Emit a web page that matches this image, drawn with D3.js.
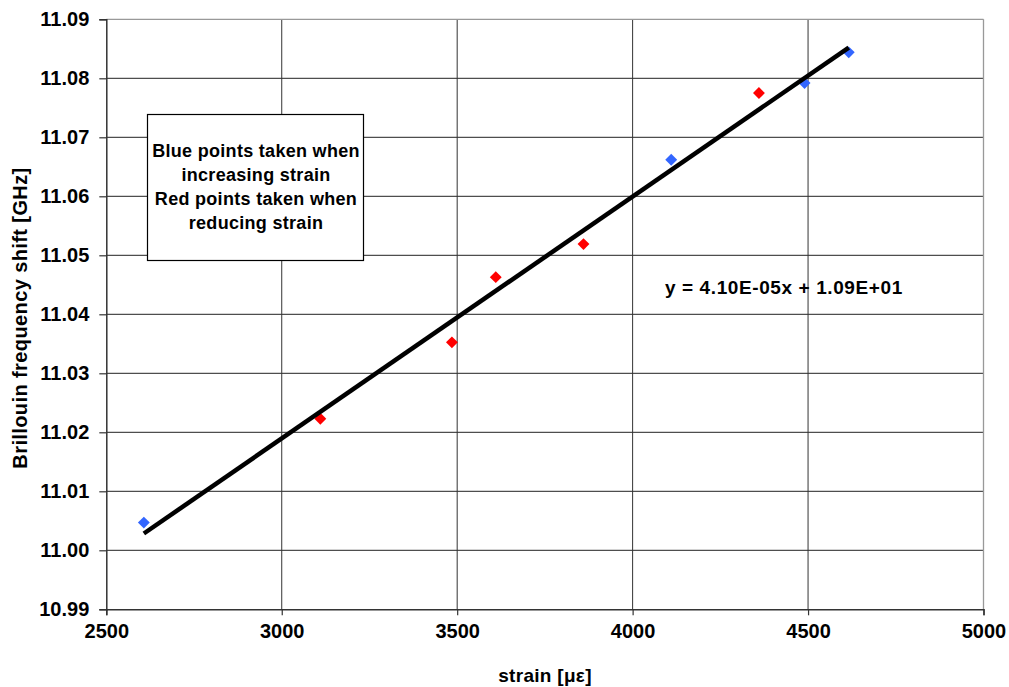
<!DOCTYPE html>
<html>
<head>
<meta charset="utf-8">
<script src="https://cdn.jsdelivr.net/npm/d3@7"></script>
<style>
  html, body { margin: 0; padding: 0; background: #fff; }
  svg { display: block; }
  text { font-family: "Liberation Sans", Arial, sans-serif; font-weight: bold; fill: #000; }
</style>
</head>
<body>
<svg id="chart" width="1009" height="687"></svg>
<script>
// ---- data ----
const blueX = [2607, 4110, 4490, 4616];
const blueY = [11.0047, 11.0662, 11.0792, 11.0844];
const redX = [3110, 3485, 3610, 3860, 4360];
const redY = [11.0223, 11.03525, 11.0463, 11.0519, 11.0775];
const xTicks = [2500, 3000, 3500, 4000, 4500, 5000];
const yTicks = [10.99, 11.00, 11.01, 11.02, 11.03, 11.04, 11.05, 11.06, 11.07, 11.08, 11.09];
const equationLabel = "y = 4.10E-05x + 1.09E+01";
const noteLines = ["Blue points taken when", "increasing strain", "Red points taken when", "reducing strain"];
const xTitle = "strain [\u03bc\u03b5]";
const yTitle = "Brillouin frequency shift [GHz]";

// ---- layout ----
const W = 1009, H = 687;
const plot = { left: 106.3, right: 983.5, top: 19.3, bottom: 609.3 };

const svg = d3.select("#chart");
const x = d3.scaleLinear().domain([2500, 5000]).range([plot.left, plot.right]);
const y = d3.scaleLinear().domain([10.99, 11.09]).range([plot.bottom, plot.top]);

// gridlines
const grid = svg.append("g");
grid.selectAll("line.h").data(yTicks.slice(1, -1)).join("line")
  .attr("x1", plot.left).attr("x2", plot.right)
  .attr("y1", d => y(d)).attr("y2", d => y(d))
  .attr("stroke", "#222").attr("stroke-width", 1);
grid.selectAll("line.v").data(xTicks.slice(1, -1)).join("line")
  .attr("y1", plot.top).attr("y2", plot.bottom)
  .attr("x1", d => x(d)).attr("x2", d => x(d))
  .attr("stroke", "#333").attr("stroke-width", 1);

// top/right border
svg.append("line").attr("x1", plot.left).attr("x2", plot.right).attr("y1", plot.top).attr("y2", plot.top)
  .attr("stroke", "#999").attr("stroke-width", 1.3);
svg.append("line").attr("x1", plot.right).attr("x2", plot.right).attr("y1", plot.top).attr("y2", plot.bottom)
  .attr("stroke", "#999").attr("stroke-width", 1.3);

// axes
const xAxis = d3.axisBottom(x).tickValues(xTicks).tickSize(6).tickPadding(9).tickFormat(d3.format("d"));
const yAxis = d3.axisLeft(y).tickValues(yTicks).tickSize(7).tickPadding(10).tickFormat(d3.format(".2f"));
const gx = svg.append("g").attr("transform", `translate(0,${plot.bottom})`).call(xAxis);
const gy = svg.append("g").attr("transform", `translate(${plot.left},0)`).call(yAxis);
[gx, gy].forEach(g => {
  g.select(".domain").attr("stroke", "#333").attr("stroke-width", 1.5);
  g.selectAll(".tick line").attr("stroke", "#333").attr("stroke-width", 1.2);
  g.selectAll(".tick text").attr("fill", "#000")
    .style("font-family", "'Liberation Sans', Arial, sans-serif")
    .style("font-weight", "bold").style("font-size", "20px");
});

// note box
const box = svg.append("g");
box.append("rect").attr("x", 147.5).attr("y", 114.5).attr("width", 216).attr("height", 146)
  .attr("fill", "#fff").attr("stroke", "#000").attr("stroke-width", 1.2);
box.selectAll("text").data(noteLines).join("text")
  .attr("x", 256).attr("y", (d, i) => 157 + i * 24)
  .attr("text-anchor", "middle").style("font-size", "18px").style("letter-spacing", "0.3px")
  .text(d => d);

// markers
const diamond = d3.symbol().type(d3.symbolDiamond2).size(90);
svg.append("g").selectAll("path").data(blueX.map((v, i) => [v, blueY[i]])).join("path")
  .attr("d", diamond).attr("transform", d => `translate(${x(d[0])},${y(d[1])})`)
  .attr("fill", "#3366ff");
svg.append("g").selectAll("path").data(redX.map((v, i) => [v, redY[i]])).join("path")
  .attr("d", diamond).attr("transform", d => `translate(${x(d[0])},${y(d[1])})`)
  .attr("fill", "#ff0000");

// linear trendline (least squares over all points)
const allX = blueX.concat(redX), allY = blueY.concat(redY);
const mx = d3.mean(allX), my = d3.mean(allY);
const slope = d3.sum(allX, (v, i) => (v - mx) * (allY[i] - my)) / d3.sum(allX, v => (v - mx) ** 2);
const intercept = my - slope * mx;
const [x0, x1] = d3.extent(allX);
svg.append("line")
  .attr("x1", x(x0)).attr("y1", y(slope * x0 + intercept))
  .attr("x2", x(x1)).attr("y2", y(slope * x1 + intercept))
  .attr("stroke", "#000").attr("stroke-width", 4.5);

// equation
svg.append("text").attr("x", 665).attr("y", 294).style("font-size", "19px").style("letter-spacing", "0.6px")
  .text(equationLabel);

// axis titles
svg.append("text").attr("x", 545).attr("y", 682).attr("text-anchor", "middle")
  .style("font-size", "19px").style("letter-spacing", "0.3px").text(xTitle);
svg.append("text").attr("transform", "translate(26.5,318) rotate(-90)").attr("text-anchor", "middle")
  .style("font-size", "20px").style("letter-spacing", "0.4px").text(yTitle);
</script>
</body>
</html>
